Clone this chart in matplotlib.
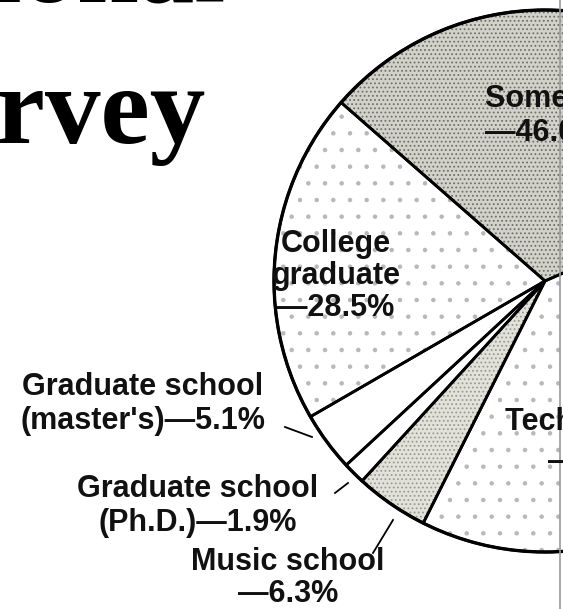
import numpy as np
import matplotlib
matplotlib.use('Agg')
import matplotlib.pyplot as plt

# Survey data (percent of respondents, several answers allowed)
labels = ['College graduate', "Graduate school (master's)", 'Graduate school (Ph.D.)',
          'Music school', 'Technical school', 'Some college']
values = [28.5, 5.1, 1.9, 6.3, 56.2, 46.0]
label_text = ['College\ngraduate\n—28.5%', "Graduate school\n(master's)—5.1%",
              'Graduate school\n(Ph.D.)—1.9%', 'Music school\n—6.3%',
              'Technical school', 'Some college\n—46.0%']

W, H = 563, 609

# fills: (face, hatch, hatch colour)
fills = [('white', '.', '#b8b8b8'),
         ('white', None, 'white'),
         ('white', None, 'white'),
         ('#e2e2da', '....', '#9a9a90'),
         ('white', '.', '#b8b8b8'),
         ('#d2d2ca', '....', '#707068')]

plt.rcParams['hatch.linewidth'] = 0.8
fig = plt.figure(figsize=(W / 100, H / 100), dpi=100)
ax = fig.add_axes([0, 0, 1, 1])

center = (545, H - 281)
radius = 271
start = 138.8

# base layer with textures
wedges, _ = ax.pie(values, startangle=start, center=center, radius=radius,
                   counterclock=True, wedgeprops=dict(linewidth=0))
for w, (fc, hatch, hc) in zip(wedges, fills):
    w.set_facecolor(fc)
    w.set_edgecolor(hc)
    if hatch:
        w.set_hatch(hatch)

# outline layer
ax.pie(values, startangle=start, center=center, radius=radius, counterclock=True,
       wedgeprops=dict(facecolor='none', edgecolor='black', linewidth=2.0))
circ = plt.Circle(center, radius, fill=False, edgecolor='black', linewidth=2.4)
ax.add_patch(circ)

ax.set_xlim(0, W)
ax.set_ylim(0, H)
ax.set_aspect('equal')
ax.axis('off')

lab_font = dict(family='Liberation Sans', weight='bold', size=22, color='#111111')

ax.text(336, H - 276, label_text[0], ha='center', va='center', linespacing=1.1, **lab_font)
ax.text(143, H - 404, label_text[1], ha='center', va='center', linespacing=1.2, **lab_font)
ax.text(198, H - 506, label_text[2], ha='center', va='center', linespacing=1.2, **lab_font)
ax.text(288, H - 578, label_text[3], ha='center', va='center', linespacing=1.05, **lab_font)
ax.text(485, H - 116, label_text[5], ha='left', va='center', linespacing=1.2, **lab_font)
ax.text(505, H - 422, label_text[4], ha='left', va='center', **lab_font)
ax.text(548, H - 462, '—%.1f%%' % values[4], ha='left', va='center', **lab_font)

# leader lines
ax.plot([285, 312], [H - 427, H - 437], color='black', lw=1.3)
ax.plot([335, 348], [H - 493, H - 483], color='black', lw=1.3)
ax.plot([373, 393], [H - 553, H - 520], color='black', lw=1.3)

# headline pieces cut by the page crop
ax.text(205, H - 143, 'Survey', ha='right', va='baseline', family='Liberation Serif',
        weight='bold', size=80, color='black')
ax.text(225, H - 1.5, 'Educational', ha='right', va='baseline', family='Liberation Serif',
        weight='bold', size=80, color='black')

# page edge
ax.plot([560, 560], [0, H], color='#9a9a9a', lw=1.2)

fig.savefig('out.png', dpi=100)
